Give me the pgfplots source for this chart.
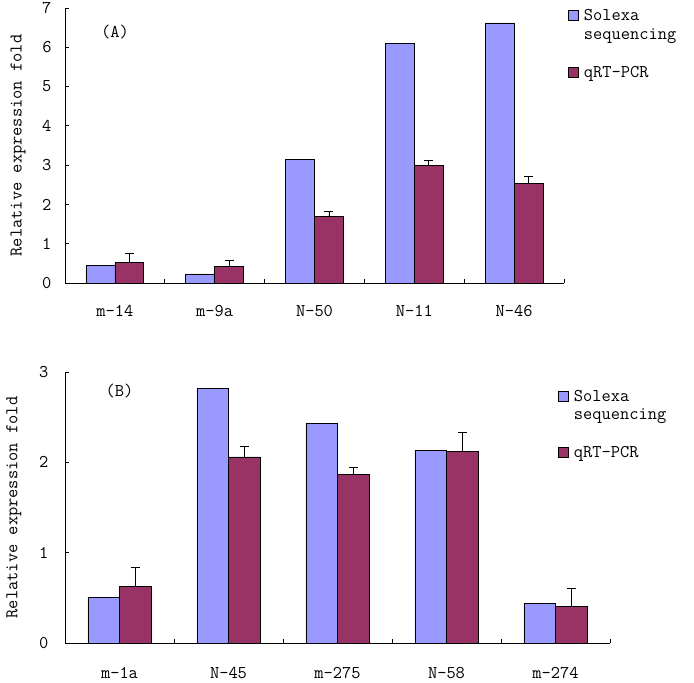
\documentclass[border=0pt]{standalone}
\usepackage{pgfplots}
\pgfplotsset{compat=1.18}
\usepackage{pgfplotstable}
\definecolor{solexa}{HTML}{9999FF}
\definecolor{qrt}{HTML}{993366}
\newcommand{\cfont}{\fontsize{18}{21}\selectfont\ttfamily}

\pgfplotstableread{
x xs xq sol qrt err
0 -0.145 0.145 0.45 0.52 0.24
1 0.855 1.145 0.23 0.42 0.165
2 1.855 2.145 3.15 1.69 0.12
3 2.855 3.145 6.09 2.99 0.13
4 3.855 4.145 6.62 2.53 0.18
}\dataA

\pgfplotstableread{
x xs xq sol qrt err
0 -0.145 0.145 0.505 0.627 0.21
1 0.855 1.145 2.82 2.06 0.12
2 1.855 2.145 2.43 1.87 0.07
3 2.855 3.145 2.13 2.12 0.21
4 3.855 4.145 0.44 0.405 0.195
}\dataB

\pgfplotsset{
  sq legend/.style={legend image code/.code={\draw[##1] (0bp,-5bp) rectangle (10bp,5bp);}},
  blank legend/.style={draw=none, fill=none, legend image code/.code={\path[draw=none, fill=none] (0bp,-5bp) rectangle (10bp,5bp);}},
  panel/.style={
    scale only axis,
    axis lines=left,
    axis line style={-, line width=0.8bp, black},
    xmin=-0.5, xmax=4.5, ymin=0,
    xtick={0,...,4},
    minor xtick={0.5,1.5,2.5,3.5,4.5},
    tick align=inside,
    major tick length=4bp, minor tick length=4bp,
    major x tick style={draw=none},
    minor x tick style={black, line width=0.8bp},
    y tick style={black, line width=0.8bp},
    tick label style={font=\cfont},
    /pgf/number format/assume math mode=true,
    label style={font=\cfont},
    ylabel={Relative expression fold},
    bar width=0.29,
    legend style={draw=none, fill=none, font=\cfont, inner sep=0pt,
       cells={anchor=west},
       nodes={inner ysep=1bp, inner xsep=5bp, text height=12bp, text depth=3bp}},
    legend cell align=left,
  },
  solbar/.style={ybar, bar shift=0pt, fill=solexa, draw=black, line width=0.7bp, sq legend},
  qrtbar/.style={ybar, bar shift=0pt, fill=qrt, draw=black, line width=0.7bp, sq legend,
     error bars/.cd, y dir=plus, y explicit,
     error bar style={black, line width=0.8bp},
     error mark options={rotate=90, black, mark size=4.5bp, line width=0.8bp}},
}

\begin{document}
\begin{tikzpicture}
\useasboundingbox (0bp,0bp) rectangle (694bp,-683bp);

\begin{axis}[panel,
  at={(65bp,-283bp)}, anchor=south west,
  width=499bp, height=275bp,
  ymax=7, ytick={0,1,...,7},
  xticklabels={m-14,m-9a,N-50,N-11,N-46},
  xticklabel style={yshift=-19bp},
  yticklabel style={xshift=-10bp},
  ylabel style={at={(axis description cs:-0.094,0.5)}, anchor=center},
  legend style={at={(axis description cs:1.008,1.004)}, anchor=north west, row sep=2bp},
]
\addplot[solbar] table[x=xs, y=sol] {\dataA};
\addlegendentry{Solexa}
\addlegendimage{blank legend}
\addlegendentry{sequencing}
\addlegendimage{blank legend}
\addlegendentry{}
\addplot[qrtbar] table[x=xq, y=qrt, y error=err] {\dataA};
\addlegendentry{qRT-PCR}
\node[font=\cfont] at (axis cs:0,6.4) {(A)};
\end{axis}

\begin{axis}[panel,
  at={(65bp,-643bp)}, anchor=south west,
  width=545bp, height=271bp,
  ymax=3, ytick={0,1,2,3},
  xticklabels={m-1a,N-45,m-275,N-58,m-274},
  xticklabel style={yshift=-21bp},
  yticklabel style={xshift=-13bp},
  ylabel style={at={(axis description cs:-0.094,0.5)}, anchor=center},
  legend style={at={(axis description cs:0.9046,0.941)}, anchor=north west, row sep=1.7bp},
]
\addplot[solbar] table[x=xs, y=sol] {\dataB};
\addlegendentry{Solexa}
\addlegendimage{blank legend}
\addlegendentry{sequencing}
\addlegendimage{blank legend}
\addlegendentry{}
\addplot[qrtbar] table[x=xq, y=qrt, y error=err] {\dataB};
\addlegendentry{qRT-PCR}
\node[font=\cfont] at (axis cs:0,2.79) {(B)};
\end{axis}
\end{tikzpicture}
\end{document}
